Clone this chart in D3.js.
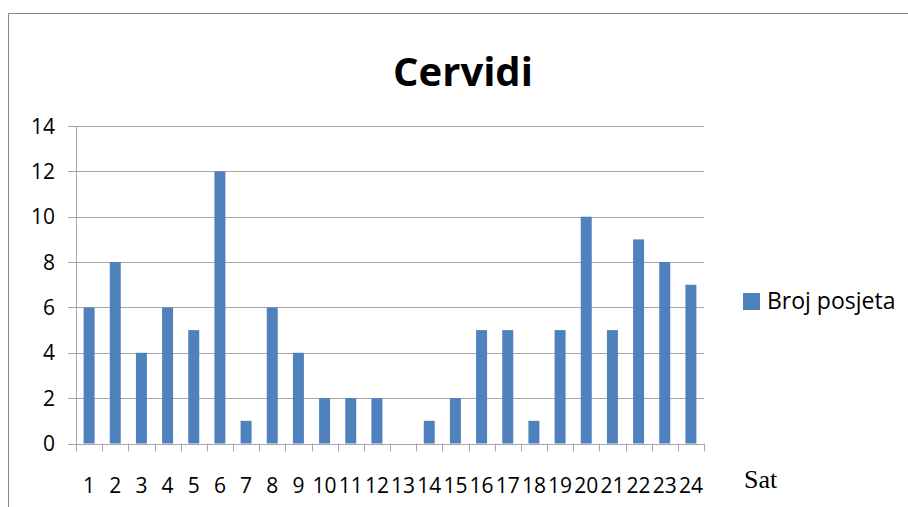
<!DOCTYPE html>
<html><head><meta charset="utf-8">
<script src="https://cdn.jsdelivr.net/npm/d3@7"></script>
<style>body{margin:0;background:#fff}svg{display:block}</style>
</head><body>
<svg id="c" width="908" height="507"></svg>
<script>
const categories = ["1","2","3","4","5","6","7","8","9","10","11","12","13","14","15","16","17","18","19","20","21","22","23","24"];
const values = [6,8,4,6,5,12,1,6,4,2,2,2,0,1,2,5,5,1,5,10,5,9,8,7];
const yTicks = [0,2,4,6,8,10,12,14];
const title = "Cervidi";
const seriesName = "Broj posjeta";
const xTitle = "Sat";

(function(){
const svg = d3.select("#c");
const font = "'Open Sans', 'Noto Sans', sans-serif";
const pL = 76, pR = 704, pT = 126, pB = 443.5;

svg.append("path").attr("d","M8.5,507 V13.5 H908").attr("fill","none").attr("stroke","#888").attr("stroke-width",1);

const x = d3.scaleBand().domain(categories).range([pL,pR]).paddingInner(0.58).paddingOuter(0.29);
const xb = d3.scaleBand().domain(categories).range([pL,pR]);
const y = d3.scaleLinear().domain([0,14]).range([pB,pT]);

svg.append("g").selectAll("line").data(yTicks).join("line")
  .attr("x1",68).attr("x2",pR).attr("y1",d=>Math.round(y(d))+0.5).attr("y2",d=>Math.round(y(d))+0.5)
  .attr("stroke","#a6a6a6").attr("stroke-width",1);

svg.append("line").attr("x1",pL+0.5).attr("x2",pL+0.5).attr("y1",pT).attr("y2",pB+1).attr("stroke","#a6a6a6");

svg.append("g").selectAll("rect").data(values).join("rect")
  .attr("x",(d,i)=>x(categories[i])).attr("width",x.bandwidth())
  .attr("y",d=>y(d)).attr("height",d=>y(0)-y(d)).attr("fill","#4f81bd");

const xTickPos = categories.map(c=>xb(c)).concat([pR]);
svg.append("g").selectAll("line").data(xTickPos).join("line")
  .attr("x1",d=>Math.round(d)+0.5).attr("x2",d=>Math.round(d)+0.5).attr("y1",pB).attr("y2",pB+8)
  .attr("stroke","#a6a6a6");

svg.append("g").selectAll("text").data(yTicks).join("text")
  .attr("x",55).attr("y",d=>y(d)).attr("dy","0.36em").attr("text-anchor","end")
  .attr("font-family",font).attr("font-size",21).attr("fill","#000").text(d=>d);

svg.append("g").selectAll("text").data(categories).join("text")
  .attr("x",c=>xb(c)+xb.bandwidth()/2).attr("y",493).attr("text-anchor","middle")
  .attr("font-family",font).attr("font-size",21).attr("fill","#000").text(c=>c);

svg.append("text").attr("x",463).attr("y",86).attr("text-anchor","middle")
  .attr("font-family",font).attr("font-weight","bold").attr("font-size",40).attr("fill","#000").text(title);

svg.append("rect").attr("x",743).attr("y",293).attr("width",17).attr("height",17).attr("fill","#4f81bd");
svg.append("text").attr("x",767).attr("y",309).attr("font-family",font).attr("font-size",23).attr("fill","#000").text(seriesName);

svg.append("text").attr("x",744).attr("y",488).attr("font-family","'Liberation Serif', 'Times New Roman', serif").attr("font-size",26).attr("fill","#000").text(xTitle);
})();
</script>
</body></html>
